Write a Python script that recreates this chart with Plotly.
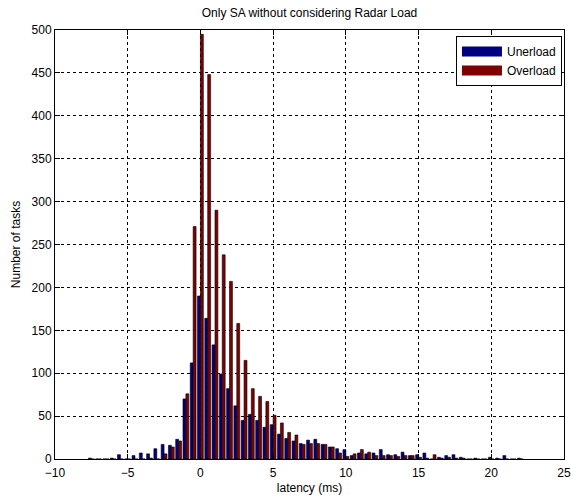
import plotly.graph_objects as go

bin_centers = [-7.5, -7.0, -6.5, -6.0, -5.5, -5.0, -4.5, -4.0, -3.5, -3.0,
               -2.5, -2.0, -1.5, -1.0, -0.5, 0.0, 0.5, 1.0, 1.5, 2.0,
               2.5, 3.0, 3.5, 4.0, 4.5, 5.0, 5.5, 6.0, 6.5, 7.0,
               7.5, 8.0, 8.5, 9.0, 9.5, 10.0, 10.5, 11.0, 11.5, 12.0,
               12.5, 13.0, 13.5, 14.0, 14.5, 15.0, 15.5, 16.0, 16.5, 17.0,
               17.5, 18.0, 18.5, 19.0, 19.5, 20.0, 20.5, 21.0, 21.5, 22.0]

unerload = [1, 0, 0, 1, 5, 0, 4, 7, 6, 12,
            17, 16, 23, 70, 112, 190, 164, 133, 99, 82,
            62, 45, 52, 45, 37, 40, 29, 24, 21, 18,
            22, 23, 17, 14, 12, 11, 4, 7, 6, 7,
            11, 5, 5, 8, 4, 5, 7, 0, 2, 4,
            5, 2, 0, 1, 0, 2, 1, 4, 0, 1]

overload = [0, 0, 0, 0, 0, 0, 0, 0, 1, 0,
            6, 14, 21, 76, 271, 495, 448, 290, 238, 207,
            158, 115, 82, 73, 67, 51, 42, 31, 28, 17,
            18, 18, 17, 14, 7, 3, 6, 11, 8, 4,
            4, 4, 3, 4, 4, 2, 1, 5, 1, 2,
            1, 1, 0, 0, 0, 0, 0, 0, 0, 0]

series_names = ["Unerload", "Overload"]
series_colors = ["#000080", "#800000"]

title_text = "Only SA without considering Radar Load"
x_label = "latency (ms)"
y_label = "Number of tasks"

FONT = "Liberation Sans, Arial, sans-serif"

fig = go.Figure()
for name, vals, col in zip(series_names, [unerload, overload], series_colors):
    fig.add_trace(go.Bar(x=bin_centers, y=vals, name=name, showlegend=False,
                         marker=dict(color=col, line=dict(color="black", width=0.6))))
# legend entries drawn as wide colour patches
for name, col in zip(series_names, series_colors):
    fig.add_trace(go.Scatter(x=[None], y=[None], mode="lines", name=name,
                             line=dict(color=col, width=13), hoverinfo="skip"))

axis_common = dict(
    showline=True, linecolor="black", linewidth=1, mirror="ticks",
    ticks="inside", ticklen=5, tickcolor="black",
    showgrid=True, gridcolor="black", gridwidth=1, griddash="3px,3px",
    zeroline=False, automargin=False,
    tickfont=dict(family=FONT, size=12, color="black"),
)

fig.update_layout(
    width=571, height=499,
    margin=dict(l=55, r=7, t=30, b=40),
    paper_bgcolor="white", plot_bgcolor="white",
    barmode="group", bargap=0.2, bargroupgap=0.0,
    font=dict(family=FONT, size=12, color="black"),
    title=dict(text=title_text, x=0.5, xref="paper", xanchor="center",
               y=0.975, yref="container", yanchor="middle",
               font=dict(family=FONT, size=12, color="black")),
    xaxis=dict(range=[-10, 25], dtick=5, tick0=-10, ticklabelstandoff=3,
               ticklabeloverflow="allow",
               title=dict(text=x_label, standoff=4, font=dict(family=FONT, size=12)),
               **axis_common),
    yaxis=dict(range=[0, 500], dtick=50, tick0=0,
               title=dict(text=y_label, standoff=8, font=dict(family=FONT, size=12)),
               **axis_common),
    legend=dict(x=0.996, y=0.986, xanchor="right", yanchor="top",
                bgcolor="white", bordercolor="black", borderwidth=1,
                font=dict(family=FONT, size=12, color="black"),
                itemwidth=40, tracegroupgap=0),
    showlegend=True,
)

fig.write_html("out.html", config={"displayModeBar": False},
               post_script="document.body.style.margin='0';document.body.style.overflow='hidden';")
